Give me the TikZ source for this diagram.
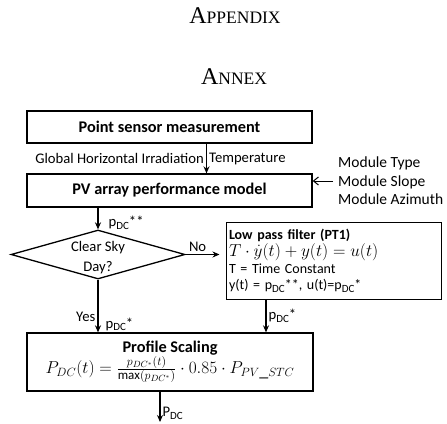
\documentclass[tikz,border=0pt]{standalone}
\usepackage{fontspec}
\usepackage{graphicx}
\setmainfont{Carlito}
\newfontfamily\titlefont{Liberation Serif}
\usetikzlibrary{
    arrows.meta,
    positioning,
    shapes.geometric
}

\newcommand{\fakesc}[2]{{\fontsize{24}{24}\selectfont #1}{\fontsize{17.5}{17.5}\selectfont #2}}
\newcommand{\dcsub}{\raisebox{-2.6pt}{\fontsize{11}{11}\selectfont DC}}
\newcommand{\fracpart}[1]{\mbox{\fontsize{13}{13}\selectfont$#1$}}

\begin{document}
\begin{tikzpicture}[
    x=1pt, y=-1pt,
    font=\fontsize{14.67}{17}\selectfont,
    heading/.style={
        font=\titlefont,
        inner sep=0pt
    },
    mainbox/.style={
        rectangle,
        draw=black,
        line width=1.3pt,
        align=center,
        inner sep=0pt,
        font=\fontsize{16.3}{19}\selectfont
    },
    filterbox/.style={
        rectangle,
        draw=black,
        line width=1pt,
        align=left,
        inner xsep=3pt,
        inner ysep=1pt,
        font=\fontsize{14}{16.2}\selectfont
    },
    decision/.style={
        diamond,
        draw=black,
        line width=1.3pt,
        inner sep=0pt,
        minimum width=174pt,
        minimum height=49pt
    },
    arrow/.style={
        -{Stealth[length=7pt,width=6pt]},
        line width=1.3pt,
        draw=black
    },
    note/.style={
        font=\fontsize{14.67}{17}\selectfont,
        inner sep=2pt
    }
]
\useasboundingbox (0,0) rectangle (447,423);

% =========================================================
% Headings
% =========================================================
\node[heading] (appendix) at (235,16) {\fakesc{A}{PPENDIX}};
\node[heading] (annex) at (234,77) {\fakesc{A}{NNEX}};

% =========================================================
% Boxes
% =========================================================
\node[mainbox, minimum width=285pt, minimum height=32pt] (sensor) at (169.5,127)
{\textbf{Point sensor measurement}};

\node[mainbox, minimum width=285pt, minimum height=33pt] (pvmodel) at (169.5,190.5)
{\textbf{PV array performance model}};

\node[decision,
      label={[align=center, yshift=-3pt, font=\fontsize{14.67}{20}\selectfont]center:Clear Sky\\Day?}]
      (clearsky) at (98,254.5) {};

\node[filterbox, text width=209pt, minimum width=215pt, minimum height=77pt] (lowpass) at (333.5,260.5)
{\textbf{Low pass filter (PT1)}\\[1.5pt]
{\fontsize{17}{16.2}\selectfont$T\cdot\dot{y}(t)+y(t)=u(t)$}\\[0.5pt]
T = Time Constant\\
y(t) = p\dcsub**, u(t)=p\dcsub*};

\node[mainbox, minimum width=286pt, minimum height=58pt] (scaling) at (170,362)
{\textbf{Profile Scaling}\\
{\fontsize{18}{19}\selectfont$P_{DC}(t)=\frac{\fracpart{p_{DC^*}(t)}}{\fracpart{\max(p_{DC^*})}}\cdot 0.85\cdot P_{PV\_STC}$}};

\node[note, align=left, inner sep=0pt, anchor=west, font=\fontsize{15.5}{18.5}\selectfont] (modparams) at (338,181)
{Module Type\\Module Slope\\Module Azimuth};

\coordinate (output) at (160,422);

% =========================================================
% Arrows
% =========================================================
\draw[arrow] ([xshift=37pt]sensor.south) -- ([xshift=37pt]pvmodel.north)
    node[midway, left, note] {Global Horizontal Irradiation}
    node[midway, right, note] {Temperature};

\draw[arrow, -{Straight Barb[length=5pt,width=8pt]}, line width=1pt, shorten <=5pt]
    (modparams.west) -- (modparams.west -| pvmodel.east);

\draw[arrow] (pvmodel.south -| clearsky.north) -- (clearsky.north)
    node[pos=0.7, right, note, xshift=8pt] {p\dcsub**};

\draw[arrow, shorten >=6pt] (clearsky.east) -- (clearsky.east -| lowpass.west)
    node[pos=0.3, above, note] {No};

\draw[arrow] (clearsky.south) -- (clearsky.south |- scaling.north)
    node[pos=0.7, left, note] {Yes}
    node[pos=1, anchor=south west, note, xshift=6pt, inner sep=1pt] {p\dcsub*};

\draw[arrow] ([xshift=-67.5pt]lowpass.south) -- ([xshift=-67.5pt]lowpass.south |- scaling.north)
    node[midway, right, note] {p\dcsub*};

\draw[arrow] ([xshift=-10pt]scaling.south) -- (output)
    node[pos=0.72, right, note] {P\dcsub};

\end{tikzpicture}
\end{document}
